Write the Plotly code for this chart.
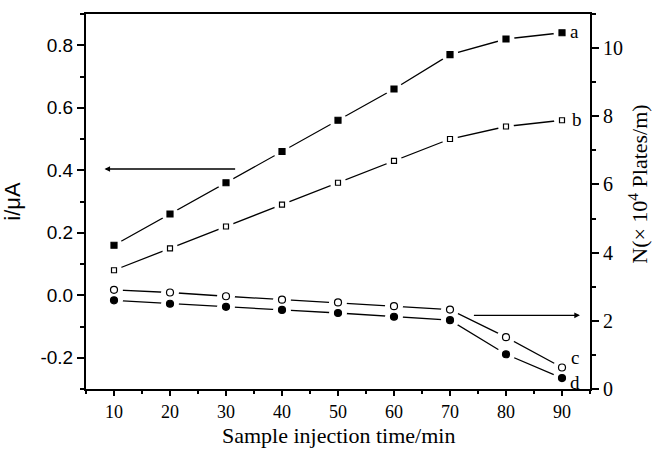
import plotly.graph_objects as go

time_min = [10, 20, 30, 40, 50, 60, 70, 80, 90]
current_a = [0.16, 0.26, 0.36, 0.46, 0.56, 0.66, 0.77, 0.82, 0.84]
current_b = [0.08, 0.15, 0.22, 0.29, 0.36, 0.43, 0.50, 0.54, 0.56]
plates_c = [2.91, 2.83, 2.72, 2.62, 2.54, 2.43, 2.33, 1.52, 0.63]
plates_d = [2.60, 2.50, 2.41, 2.32, 2.23, 2.12, 2.02, 1.02, 0.32]
curve_labels = ["a", "b", "c", "d"]

SERIF = "Liberation Serif, Times New Roman, serif"
SANS = "Liberation Sans, Arial, sans-serif"

fig = go.Figure()

series = [
    (current_a, "y", "square", "black", 6),
    (current_b, "y", "square", "white", 5),
    (plates_c, "y2", "circle", "white", 7),
    (plates_d, "y2", "circle", "black", 7),
]

# lines
for vals, ax, sym, fill, size in series:
    fig.add_trace(go.Scatter(x=time_min, y=vals, yaxis=ax, mode="lines",
                             line=dict(color="black", width=1.3),
                             showlegend=False, hoverinfo="skip"))
# white halos to create gaps around markers
for vals, ax, sym, fill, size in series:
    fig.add_trace(go.Scatter(x=time_min, y=vals, yaxis=ax, mode="markers",
                             marker=dict(symbol="circle", size=size + 11, color="white",
                                         line=dict(width=0)),
                             showlegend=False, hoverinfo="skip"))
# markers
for vals, ax, sym, fill, size in series:
    fig.add_trace(go.Scatter(x=time_min, y=vals, yaxis=ax, mode="markers",
                             marker=dict(symbol=sym, size=size, color=fill,
                                         line=dict(color="black", width=1.2)),
                             showlegend=False))

label_pos = [(92.3, 0.845), (92.6, 0.564), (92.3, -0.200), (92.3, -0.279)]
for lab, (lx, ly) in zip(curve_labels, label_pos):
    fig.add_annotation(x=lx, y=ly, xref="x", yref="y", text=lab, showarrow=False,
                       borderpad=0,
                       font=dict(family=SERIF, size=19, color="black"))

# arrows indicating axes
fig.add_annotation(x=8.3, y=0.404, ax=31.9, ay=0.404, xref="x", yref="y",
                   axref="x", ayref="y", text="", showarrow=True,
                   arrowhead=2, arrowsize=0.8, arrowwidth=1.4, arrowcolor="black")
fig.add_annotation(x=93.2, y=2.16, ax=74.0, ay=2.16, xref="x", yref="y2",
                   axref="x", ayref="y2", text="", showarrow=True,
                   arrowhead=2, arrowsize=0.8, arrowwidth=1.4, arrowcolor="black")

# axis titles
fig.add_annotation(x=1.095, y=0.547, xref="paper", yref="paper",
                   text="N(× 10<sup>4</sup> Plates/m)", textangle=-90,
                   showarrow=False, xanchor="center", yanchor="middle",
                   font=dict(family=SERIF, size=22, color="black"))
fig.add_annotation(x=0.5, y=-0.16, xref="paper", yref="paper",
                   text="Sample injection time/min", borderpad=0,
                   showarrow=False, xanchor="center", yanchor="bottom",
                   font=dict(family=SERIF, size=22, color="black"))

fig.update_layout(
    width=652, height=449,
    margin=dict(l=86, r=62, t=14, b=60),
    plot_bgcolor="white", paper_bgcolor="white",
    xaxis=dict(range=[5, 95], tickvals=time_min, ticks="outside", ticklen=5,
               tickwidth=1.5, tickcolor="black", showline=True, linecolor="black",
               linewidth=2, mirror=True, showgrid=False, zeroline=False,
               automargin=False,
               minor=dict(dtick=5, tick0=5, ticks="outside", ticklen=3,
                          tickwidth=1.5, tickcolor="black", showgrid=False),
               tickfont=dict(family=SERIF, size=18, color="black")),
    yaxis=dict(range=[-0.3, 0.9], tickvals=[-0.2, 0.0, 0.2, 0.4, 0.6, 0.8],
               ticktext=["-0.2", "0.0", "0.2", "0.4", "0.6", "0.8"],
               ticks="outside", ticklen=7, tickwidth=1.5, tickcolor="black",
               showline=True, linecolor="black", linewidth=2, showgrid=False,
               zeroline=False, automargin=False,
               minor=dict(dtick=0.1, tick0=-0.3, ticks="outside", ticklen=4,
                          tickwidth=1.5, tickcolor="black", showgrid=False),
               tickfont=dict(family=SANS, size=19, color="black"),
               title=dict(text="i/μA", standoff=14,
                          font=dict(family=SANS, size=22, color="black"))),
    yaxis2=dict(range=[0, 11], overlaying="y", side="right",
                tickvals=[0, 2, 4, 6, 8, 10], ticks="outside", ticklen=7,
                tickwidth=1.5, tickcolor="black", showline=True,
                linecolor="black", linewidth=2, showgrid=False, zeroline=False,
                automargin=False,
                minor=dict(dtick=1, tick0=0, ticks="outside", ticklen=4,
                           tickwidth=1.5, tickcolor="black", showgrid=False),
                tickfont=dict(family=SERIF, size=20, color="black")),
)

fig.write_html("out.html")
